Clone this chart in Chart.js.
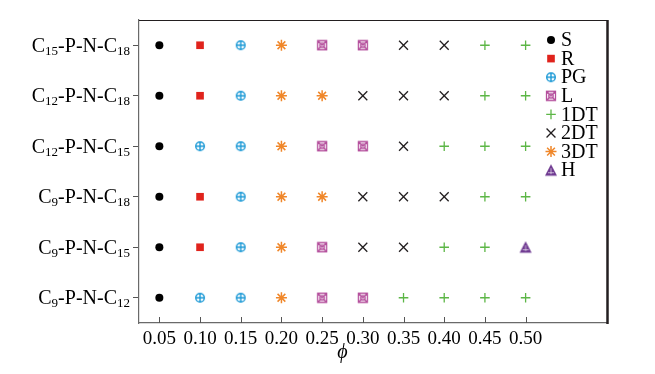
<!DOCTYPE html>
<html>
<head>
<meta charset="utf-8">
<script src="https://cdn.jsdelivr.net/npm/chart.js@4.4.0/dist/chart.umd.min.js"></script>
<style>
    html, body { margin: 0; padding: 0; background: #fff; }
    #wrap { width: 655px; height: 374px; }
</style>
</head>
<body>
<div id="wrap"><canvas id="chart_phase" width="655" height="374"></canvas></div>
<script>
// volume fraction on the x axis
const phi = [0.05, 0.10, 0.15, 0.20, 0.25, 0.30, 0.35, 0.40, 0.45, 0.50];

// systems, from bottom row to top row
const systems = ['C9-P-N-C12', 'C9-P-N-C15', 'C9-P-N-C18', 'C12-P-N-C15', 'C12-P-N-C18', 'C15-P-N-C18'];

// phase found at each phi, one array per system
const phases_C9_C12 = ['S', 'PG', 'PG', '3DT', 'L', 'L', '1DT', '1DT', '1DT', '1DT'];
const phases_C9_C15 = ['S', 'R', 'PG', '3DT', 'L', '2DT', '2DT', '1DT', '1DT', 'H'];
const phases_C9_C18 = ['S', 'R', 'PG', '3DT', '3DT', '2DT', '2DT', '2DT', '1DT', '1DT'];
const phases_C12_C15 = ['S', 'PG', 'PG', '3DT', 'L', 'L', '2DT', '1DT', '1DT', '1DT'];
const phases_C12_C18 = ['S', 'R', 'PG', '3DT', '3DT', '2DT', '2DT', '2DT', '1DT', '1DT'];
const phases_C15_C18 = ['S', 'R', 'PG', '3DT', 'L', 'L', '2DT', '2DT', '1DT', '1DT'];

const phase_rows = [phases_C9_C12, phases_C9_C15, phases_C9_C18, phases_C12_C15, phases_C12_C18, phases_C15_C18];

// legend order
const phase_names = ['S', 'R', 'PG', 'L', '1DT', '2DT', '3DT', 'H'];
const phase_colors = ['#000000', '#e0231c', '#1e9ad6', '#b44f9c', '#5cb646', '#231f20', '#f0872a', '#6f3a91'];

const serif = "'Liberation Serif', 'Times New Roman', serif";

function makeMarker(size, draw) {
    const c = document.createElement('canvas');
    c.width = size;
    c.height = size;
    draw(c.getContext('2d'), size / 2);
    return c;
}

// circle with a plus
const pg_marker = makeMarker(12, (g, h) => {
    g.strokeStyle = phase_colors[2];
    g.lineWidth = 1.4;
    g.beginPath();
    g.arc(h, h, 4.3, 0, Math.PI * 2);
    g.moveTo(h - 4.3, h); g.lineTo(h + 4.3, h);
    g.moveTo(h, h - 4.3); g.lineTo(h, h + 4.3);
    g.stroke();
});

// square with cross and small circle
const l_marker = makeMarker(12, (g, h) => {
    g.strokeStyle = phase_colors[3];
    g.lineWidth = 1.3;
    g.beginPath();
    g.rect(h - 4.5, h - 4.5, 9, 9);
    g.moveTo(h - 4.5, h - 4.5); g.lineTo(h + 4.5, h + 4.5);
    g.moveTo(h + 4.5, h - 4.5); g.lineTo(h - 4.5, h + 4.5);
    g.stroke();
    g.beginPath();
    g.arc(h, h, 2.2, 0, Math.PI * 2);
    g.stroke();
});

// filled triangle
const h_marker = makeMarker(14, (g, h) => {
    g.fillStyle = phase_colors[7];
    g.beginPath();
    g.moveTo(h, 1);
    g.lineTo(13, 12.5);
    g.lineTo(1, 12.5);
    g.closePath();
    g.fill();
    g.strokeStyle = 'rgba(255,255,255,0.6)';
    g.lineWidth = 1;
    g.beginPath();
    g.moveTo(h, 5); g.lineTo(h, 11);
    g.moveTo(h - 3, 9.5); g.lineTo(h + 3, 9.5);
    g.stroke();
});

const marker_styles = {
    'S': { pointStyle: 'circle', radius: 4, borderWidth: 0 },
    'R': { pointStyle: 'rect', radius: 5.4, borderWidth: 0 },
    'PG': { pointStyle: pg_marker, radius: 6, borderWidth: 0 },
    'L': { pointStyle: l_marker, radius: 6, borderWidth: 0 },
    '1DT': { pointStyle: 'cross', radius: 4.8, borderWidth: 1.3 },
    '2DT': { pointStyle: 'crossRot', radius: 6.3, borderWidth: 1.3 },
    '3DT': { pointStyle: 'star', radius: 5.5, borderWidth: 1.5 },
    'H': { pointStyle: h_marker, radius: 7, borderWidth: 0 },
};

let datasets = [];
for (let p = 0; p < phase_names.length; p++) {
    let name = phase_names[p];
    let points = [];
    for (let r = 0; r < phase_rows.length; r++) {
        for (let i = 0; i < phi.length; i++) {
            if (phase_rows[r][i] === name) {
                points.push({ x: phi[i], y: r });
            }
        }
    }
    let st = marker_styles[name];
    datasets.push({
        label: name,
        data: points,
        pointStyle: st.pointStyle,
        pointRadius: st.radius,
        pointBorderWidth: st.borderWidth,
        backgroundColor: phase_colors[p],
        borderColor: phase_colors[p],
        showLine: false,
    });
}

// box, inward x ticks, subscripted y labels, axis title and legend
const decorations = {
    id: 'decorations',
    afterDraw(chart) {
        const ctx = chart.ctx;
        const area = chart.chartArea;
        const xs = chart.scales.x;
        const ys = chart.scales.y;
        ctx.save();

        // top and right frame
        ctx.strokeStyle = '#231f20';
        ctx.lineWidth = 1;
        ctx.beginPath();
        ctx.moveTo(area.left, area.top + 0.5);
        ctx.lineTo(area.right, area.top + 0.5);
        ctx.stroke();
        ctx.lineWidth = 2.5;
        ctx.beginPath();
        ctx.moveTo(area.right + 0.5, area.top);
        ctx.lineTo(area.right + 0.5, area.bottom + 1);
        ctx.stroke();

        // x ticks pointing inward
        ctx.strokeStyle = '#555';
        ctx.lineWidth = 1;
        ctx.beginPath();
        xs.ticks.forEach((t) => {
            let px = Math.round(xs.getPixelForValue(t.value)) + 0.5;
            ctx.moveTo(px, area.bottom);
            ctx.lineTo(px, area.bottom - 6);
        });
        ctx.stroke();

        // y labels with subscripts
        ctx.fillStyle = '#000';
        ctx.textBaseline = 'alphabetic';
        ys.ticks.forEach((t) => {
            let label = systems[t.value];
            if (label === undefined) return;
            let parts = label.split(/(\d+)/).filter(s => s.length);
            let big = '20px ' + serif;
            let small = '13px ' + serif;
            let widths = parts.map(s => {
                ctx.font = /\d/.test(s) ? small : big;
                return ctx.measureText(s).width;
            });
            let total = widths.reduce((a, b) => a + b, 0);
            let px = area.left - 9 - total;
            let py = ys.getPixelForValue(t.value) + 6.5;
            parts.forEach((s, k) => {
                let sub = /\d/.test(s);
                ctx.font = sub ? small : big;
                ctx.fillText(s, px, py + (sub ? 3 : 0));
                px += widths[k];
            });
        });

        // axis title
        ctx.font = 'italic 20px ' + serif;
        ctx.textAlign = 'center';
        ctx.textBaseline = 'middle';
        let mid = (phi[0] + phi[phi.length - 1]) / 2;
        ctx.fillText('ϕ', xs.getPixelForValue(mid), area.bottom + 30);

        // legend
        ctx.textAlign = 'left';
        ctx.font = '20px ' + serif;
        for (let i = 0; i < phase_names.length; i++) {
            let st = marker_styles[phase_names[i]];
            let lx = area.right - 56;
            let ly = area.top + 20 + i * 18.6;
            ctx.fillStyle = phase_colors[i];
            ctx.strokeStyle = phase_colors[i];
            ctx.lineWidth = st.borderWidth;
            Chart.helpers.drawPoint(ctx, {
                pointStyle: st.pointStyle,
                radius: st.radius,
                rotation: 0,
                borderWidth: st.borderWidth
            }, lx, ly);
            ctx.fillStyle = '#000';
            ctx.fillText(phase_names[i], lx + 10, ly + 1);
        }
        ctx.restore();
    }
};

const ctx = document.getElementById('chart_phase');

new Chart(ctx, {
    type: 'scatter',
    data: { datasets: datasets },
    options: {
        responsive: false,
        animation: false,
        layout: { padding: { top: 20, right: 48, left: 0, bottom: 0 } },
        plugins: {
            legend: { display: false },
            tooltip: { enabled: false },
        },
        scales: {
            x: {
                type: 'linear',
                min: 0.025,
                max: 0.6,
                afterFit: (s) => { s.height = 51; },
                afterBuildTicks: (s) => { s.ticks = phi.map(v => ({ value: v })); },
                grid: { drawOnChartArea: false, drawTicks: false },
                border: { color: '#6a6a6a', width: 1.2 },
                ticks: {
                    padding: 5,
                    color: '#000',
                    font: { family: serif, size: 19 },
                    callback: (v) => v.toFixed(2),
                },
            },
            y: {
                type: 'linear',
                min: -0.5,
                max: 5.5,
                afterFit: (s) => { s.width = 139; },
                afterBuildTicks: (s) => { s.ticks = systems.map((n, i) => ({ value: i })); },
                grid: { drawOnChartArea: false, tickLength: 6, color: '#555' },
                border: { color: '#6a6a6a', width: 1.2 },
                ticks: { display: false },
            },
        },
    },
    plugins: [decorations],
});
</script>
</body>
</html>
